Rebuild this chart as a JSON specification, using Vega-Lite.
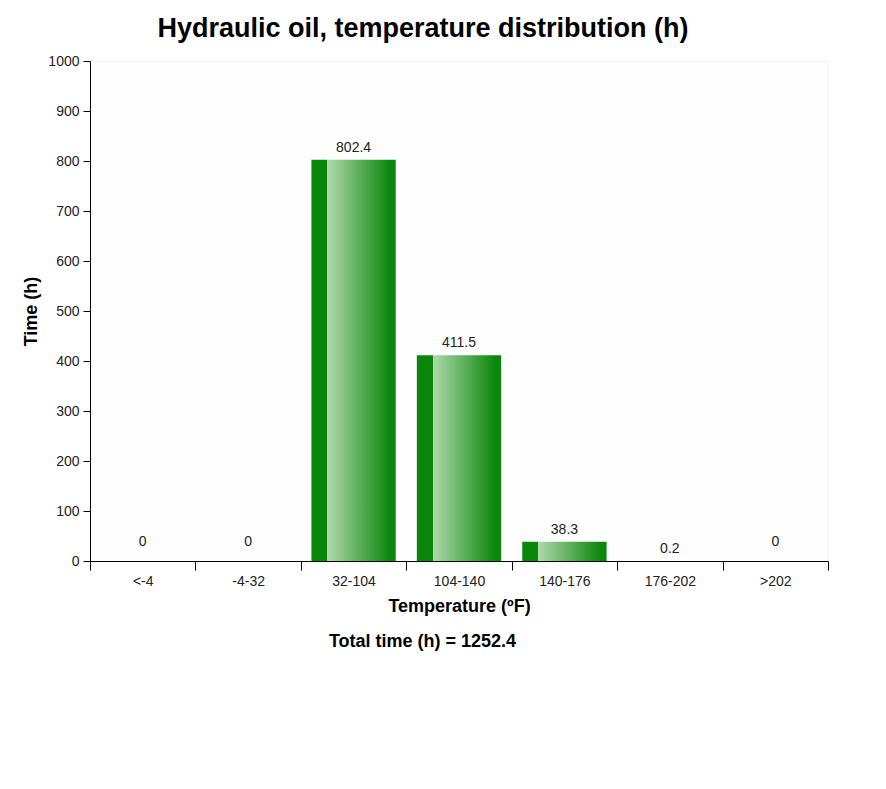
{
  "$schema": "https://vega.github.io/schema/vega-lite/v6.json",
  "width": 738,
  "height": 500,
  "autosize": "none",
  "padding": {"left": 90, "top": 61, "right": 58, "bottom": 228},
  "background": "white",
  "config": {
    "font": "Liberation Sans",
    "view": {"stroke": "#f2f2f2", "fill": "#fefefe"}
  },
  "title": {
    "text": "Hydraulic oil, temperature distribution (h)",
    "fontSize": 27,
    "fontWeight": "bold",
    "color": "black",
    "anchor": "middle",
    "dx": -36,
    "offset": -10,
    "baseline": "alphabetic"
  },
  "data": {
    "values": [
      {"range": "<-4", "time": 0},
      {"range": "-4-32", "time": 0},
      {"range": "32-104", "time": 802.4},
      {"range": "104-140", "time": 411.5},
      {"range": "140-176", "time": 38.3},
      {"range": "176-202", "time": 0.2},
      {"range": ">202", "time": 0}
    ]
  },
  "resolve": {"axis": {"x": "independent"}},
  "layer": [
    {
      "mark": {
        "type": "bar",
        "width": {"band": 0.8},
        "color": {
          "gradient": "linear",
          "x1": 0, "x2": 1, "y1": 0, "y2": 0,
          "stops": [
            {"offset": 0, "color": "#0a870a"},
            {"offset": 0.19, "color": "#0a870a"},
            {"offset": 0.19, "color": "#b0d9ac"},
            {"offset": 0.92, "color": "#0e880e"},
            {"offset": 1, "color": "#0a870a"}
          ]
        }
      },
      "encoding": {
        "x": {
          "field": "range",
          "type": "nominal",
          "sort": null,
          "scale": {"paddingInner": 0, "paddingOuter": 0},
          "axis": {
            "orient": "bottom",
            "title": "Temperature (ºF)",
            "titleFontSize": 18,
            "titleFontWeight": "bold",
            "titleColor": "black",
            "titlePadding": 9,
            "labelAngle": 0,
            "labelFontSize": 14,
            "labelColor": "#222",
            "labelPadding": 4,
            "tickBand": "extent",
            "tickSize": 9,
            "tickColor": "black",
            "domainColor": "black",
            "grid": false
          }
        },
        "y": {
          "field": "time",
          "type": "quantitative",
          "scale": {"domain": [0, 1000], "nice": false},
          "axis": {
            "title": "Time (h)",
            "titleFontSize": 18,
            "titleFontWeight": "bold",
            "titleColor": "black",
            "titlePadding": 7,
            "values": [0, 100, 200, 300, 400, 500, 600, 700, 800, 900, 1000],
            "format": "d",
            "grid": false,
            "domainColor": "black",
            "tickColor": "black",
            "tickSize": 7,
            "labelFontSize": 14,
            "labelColor": "#222",
            "labelPadding": 4
          }
        }
      }
    },
    {
      "transform": [{"filter": "datum.time > 0"}],
      "mark": {"type": "text", "dy": -8, "baseline": "alphabetic", "fontSize": 14, "color": "#222"},
      "encoding": {
        "x": {
          "field": "range",
          "type": "nominal",
          "sort": null,
          "axis": {
            "orient": "bottom",
            "offset": 59,
            "title": "Total time (h) = 1252.4",
            "titleFontSize": 18,
            "titleFontWeight": "bold",
            "titleColor": "black",
            "titleX": 332,
            "titleAlign": "center",
            "titlePadding": 12,
            "labels": false,
            "ticks": false,
            "domain": false,
            "grid": false
          }
        },
        "y": {"field": "time", "type": "quantitative"},
        "text": {"field": "time", "type": "quantitative", "format": "~g"}
      }
    },
    {
      "transform": [{"filter": "datum.time == 0"}],
      "mark": {"type": "text", "dy": -15, "baseline": "alphabetic", "fontSize": 14, "color": "#222"},
      "encoding": {
        "x": {"field": "range", "type": "nominal", "sort": null, "axis": null},
        "y": {"field": "time", "type": "quantitative"},
        "text": {"field": "time", "type": "quantitative", "format": "~g"}
      }
    }
  ]
}
